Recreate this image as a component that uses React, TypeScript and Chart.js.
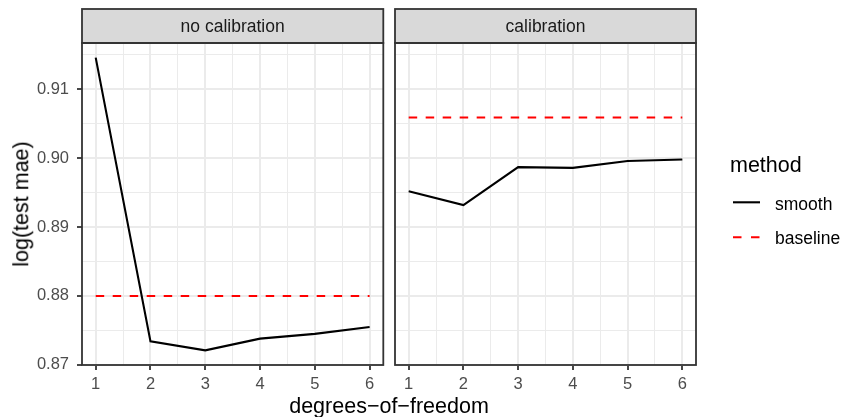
import React, { useEffect, useRef } from 'react';
import { Chart, registerables } from 'chart.js';

Chart.register(...registerables);

// ---------- data ----------
const dof = [1, 2, 3, 4, 5, 6];
const facetLabels = ['no calibration', 'calibration'];
const noCalSmooth = [0.9146, 0.8734, 0.8721, 0.8738, 0.8745, 0.8755];
const noCalBaseline = [0.88, 0.88, 0.88, 0.88, 0.88, 0.88];
const calSmooth = [0.8952, 0.8932, 0.8987, 0.8986, 0.8996, 0.8998];
const calBaseline = [0.9059, 0.9059, 0.9059, 0.9059, 0.9059, 0.9059];
const yMajorTicks = [0.87, 0.88, 0.89, 0.9, 0.91];
const yMinorTicks = [0.875, 0.885, 0.895, 0.905, 0.915];
const xMajorTicks = [1, 2, 3, 4, 5, 6];
const xMinorTicks = [1.5, 2.5, 3.5, 4.5, 5.5];
const seriesNames = ['smooth', 'baseline'];
const legendTitle = 'method';
const xTitle = 'degrees\u2212of\u2212freedom';
const yTitle = 'log(test mae)';

// ---------- derived ranges (ggplot-like 5% expansion) ----------
const allY = [...noCalSmooth, ...noCalBaseline, ...calSmooth, ...calBaseline];
const yLo = Math.min(...allY);
const yHi = Math.max(...allY);
const yMin = yLo - 0.05 * (yHi - yLo);
const yMax = yHi + 0.05 * (yHi - yLo);
const xLo = Math.min(...dof);
const xHi = Math.max(...dof);
const xMin = xLo - 0.05 * (xHi - xLo);
const xMax = xHi + 0.05 * (xHi - xLo);

// ---------- styling / layout ----------
const FONT = '"Liberation Sans", Arial, Helvetica, sans-serif';
const W = 844;
const H = 417;
const STRIP_TOP = 9;
const PANEL_TOP = 43;
const PANEL_BOTTOM = 365;
const DARK = '#333333';
const GRID = '#EBEBEB';
const LINE_W = 2.1;
const DASH = [8.5, 8.5];

const near = (a: number, b: number) => Math.abs(a - b) < 1e-9;
const isIn = (arr: number[], v: number) => arr.some((t) => near(t, v));

function makePanelPlugin(label: string, withLegend: boolean, offsetX: number) {
  return {
    id: 'panelDecor' + label.replace(/\s/g, ''),
    afterDraw(chart: any) {
      const { left, right, top, bottom } = chart.chartArea;
      const ctx = chart.ctx;
      ctx.save();
      // strip
      ctx.fillStyle = '#D9D9D9';
      ctx.fillRect(left, STRIP_TOP, right - left, top - STRIP_TOP);
      ctx.strokeStyle = DARK;
      ctx.lineWidth = 1.8;
      ctx.strokeRect(left, STRIP_TOP, right - left, top - STRIP_TOP);
      // panel border
      ctx.strokeRect(left, top, right - left, bottom - top);
      // strip text
      ctx.fillStyle = '#1A1A1A';
      ctx.font = `17.5px ${FONT}`;
      ctx.textAlign = 'center';
      ctx.textBaseline = 'alphabetic';
      ctx.fillText(label, (left + right) / 2, 32);

      if (withLegend) {
        const lx = 730 - offsetX;
        ctx.textAlign = 'left';
        ctx.fillStyle = '#000000';
        ctx.font = `21.5px ${FONT}`;
        ctx.fillText(legendTitle, lx, 172);
        ctx.font = `17.5px ${FONT}`;
        // smooth key
        ctx.lineWidth = LINE_W;
        ctx.lineCap = 'butt';
        ctx.strokeStyle = '#000000';
        ctx.setLineDash([]);
        ctx.beginPath();
        ctx.moveTo(733 - offsetX, 202.3);
        ctx.lineTo(760 - offsetX, 202.3);
        ctx.stroke();
        ctx.fillText(seriesNames[0], 775 - offsetX, 210);
        // baseline key
        ctx.strokeStyle = '#FF0000';
        ctx.setLineDash([8.5, 9.5]);
        ctx.beginPath();
        ctx.moveTo(733 - offsetX, 237.3);
        ctx.lineTo(760 - offsetX, 237.3);
        ctx.stroke();
        ctx.setLineDash([]);
        ctx.fillText(seriesNames[1], 775 - offsetX, 244);
      }
      ctx.restore();
    },
  };
}

function makeConfig(
  smooth: number[],
  baseline: number[],
  showY: boolean,
  canvasW: number,
  areaLeft: number,
  areaRight: number,
  plugin: any
) {
  return {
    type: 'line' as const,
    data: {
      datasets: [
        {
          label: seriesNames[0],
          data: dof.map((x, i) => ({ x, y: smooth[i] })),
          borderColor: '#000000',
          borderWidth: LINE_W,
          pointRadius: 0,
          tension: 0,
          fill: false,
        },
        {
          label: seriesNames[1],
          data: dof.map((x, i) => ({ x, y: baseline[i] })),
          borderColor: '#FF0000',
          borderWidth: LINE_W,
          borderDash: DASH,
          borderCapStyle: 'butt',
          pointRadius: 0,
          tension: 0,
          fill: false,
        },
      ],
    },
    options: {
      animation: false,
      responsive: false,
      devicePixelRatio: 1,
      events: [],
      layout: {
        autoPadding: false,
        padding: { top: PANEL_TOP, left: 0, bottom: 0, right: canvasW - areaRight },
      },
      plugins: {
        legend: { display: false },
        tooltip: { enabled: false },
        title: { display: false },
      },
      scales: {
        x: {
          type: 'linear',
          min: xMin,
          max: xMax,
          afterBuildTicks: (s: any) => {
            s.ticks = [...xMajorTicks, ...xMinorTicks]
              .sort((a, b) => a - b)
              .map((v) => ({ value: v }));
          },
          afterFit: (s: any) => {
            s.height = H - PANEL_BOTTOM;
            s.paddingLeft = 0;
            s.paddingRight = 0;
          },
          ticks: {
            autoSkip: false,
            maxRotation: 0,
            minRotation: 0,
            padding: 5,
            color: '#4D4D4D',
            font: { family: FONT, size: 16.5 },
            callback: (v: number) => (isIn(xMajorTicks, v) ? String(Math.round(v)) : ''),
          },
          grid: {
            color: GRID,
            lineWidth: (c: any) => (c.tick && isIn(xMajorTicks, c.tick.value) ? 2 : 1),
            drawTicks: true,
            tickLength: 5,
            tickWidth: 1.8,
            tickColor: (c: any) =>
              c.tick && isIn(xMajorTicks, c.tick.value) ? DARK : 'rgba(0,0,0,0)',
          },
          border: { display: false },
        },
        y: {
          type: 'linear',
          min: yMin,
          max: yMax,
          afterBuildTicks: (s: any) => {
            s.ticks = [...yMajorTicks, ...yMinorTicks]
              .sort((a, b) => a - b)
              .map((v) => ({ value: v }));
          },
          afterFit: (s: any) => {
            s.width = areaLeft;
            s.paddingTop = 0;
            s.paddingBottom = 0;
          },
          ticks: {
            display: showY,
            autoSkip: false,
            padding: 8,
            color: '#4D4D4D',
            font: { family: FONT, size: 16.5 },
            callback: (v: number) => {
              const m = yMajorTicks.find((t) => near(t, v));
              return m !== undefined ? m.toFixed(2) : '';
            },
          },
          grid: {
            color: GRID,
            lineWidth: (c: any) => (c.tick && isIn(yMajorTicks, c.tick.value) ? 2 : 1),
            drawTicks: showY,
            tickLength: 5,
            tickWidth: 1.8,
            tickColor: (c: any) =>
              c.tick && isIn(yMajorTicks, c.tick.value) ? DARK : 'rgba(0,0,0,0)',
          },
          border: { display: false },
        },
      },
    },
    plugins: [plugin],
  };
}

const LEFT_CANVAS = { left: 0, width: 390, areaLeft: 82, areaRight: 383.3 };
const RIGHT_CANVAS = { left: 390, width: W - 390, areaLeft: 5, areaRight: 306 };

export default function App() {
  const leftRef = useRef<HTMLCanvasElement | null>(null);
  const rightRef = useRef<HTMLCanvasElement | null>(null);

  useEffect(() => {
    const c1 = new Chart(
      leftRef.current as HTMLCanvasElement,
      makeConfig(
        noCalSmooth,
        noCalBaseline,
        true,
        LEFT_CANVAS.width,
        LEFT_CANVAS.areaLeft,
        LEFT_CANVAS.areaRight,
        makePanelPlugin(facetLabels[0], false, LEFT_CANVAS.left)
      ) as any
    );
    const c2 = new Chart(
      rightRef.current as HTMLCanvasElement,
      makeConfig(
        calSmooth,
        calBaseline,
        false,
        RIGHT_CANVAS.width,
        RIGHT_CANVAS.areaLeft,
        RIGHT_CANVAS.areaRight,
        makePanelPlugin(facetLabels[1], true, RIGHT_CANVAS.left)
      ) as any
    );
    return () => {
      c1.destroy();
      c2.destroy();
    };
  }, []);

  return (
    <div
      style={{
        position: 'absolute',
        left: 0,
        top: 0,
        width: W,
        height: H,
        background: '#ffffff',
        overflow: 'hidden',
        fontFamily: FONT,
      }}
    >
      <canvas
        ref={leftRef}
        width={LEFT_CANVAS.width}
        height={H}
        style={{ position: 'absolute', left: LEFT_CANVAS.left, top: 0, width: LEFT_CANVAS.width, height: H }}
      />
      <canvas
        ref={rightRef}
        width={RIGHT_CANVAS.width}
        height={H}
        style={{ position: 'absolute', left: RIGHT_CANVAS.left, top: 0, width: RIGHT_CANVAS.width, height: H }}
      />
      <div
        style={{
          position: 'absolute',
          left: 389,
          top: 395.5,
          transform: 'translateX(-50%)',
          fontSize: 21.5,
          lineHeight: 1,
          whiteSpace: 'nowrap',
          color: '#000',
        }}
      >
        {xTitle}
      </div>
      <div
        style={{
          position: 'absolute',
          left: 22,
          top: 204,
          transform: 'translate(-50%, -50%) rotate(-90deg)',
          fontSize: 21.5,
          lineHeight: 1,
          whiteSpace: 'nowrap',
          color: '#000',
        }}
      >
        {yTitle}
      </div>
    </div>
  );
}
